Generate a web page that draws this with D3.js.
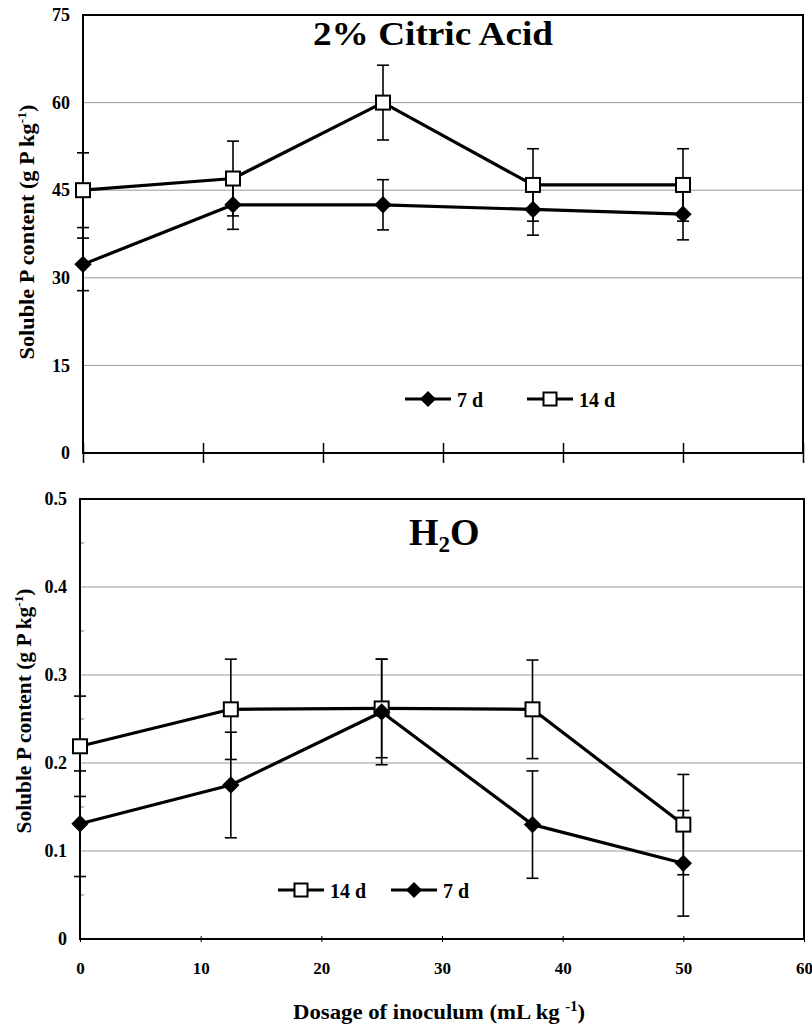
<!DOCTYPE html>
<html>
<head>
<meta charset="utf-8">
<script src="https://cdn.jsdelivr.net/npm/d3@7/dist/d3.min.js"></script>
<style>
  body { margin: 0; background: #fff; }
  svg text { font-family: 'Liberation Serif', 'Times New Roman', serif; font-weight: bold; fill: #000; }
</style>
</head>
<body>
<div id="chart"></div>
<script>
// dosage of inoculum (mL kg-1)
const dosage = [0, 12.5, 25, 37.5, 50];
const xTicks = [0, 10, 20, 30, 40, 50, 60];

// 2% citric acid extract
const citric7 = [32.3, 42.5, 42.5, 41.7, 40.9];
const citric7Err = [4.5, 4.2, 4.3, 4.4, 4.4];
const citric14 = [45.0, 47.0, 60.0, 45.9, 45.9];
const citric14Err = [6.4, 6.4, 6.4, 6.2, 6.2];
const citricTicks = [0, 15, 30, 45, 60, 75];

// water extract
const water7 = [0.131, 0.175, 0.258, 0.130, 0.086];
const water7Err = [0.060, 0.060, 0.060, 0.061, 0.060];
const water14 = [0.219, 0.261, 0.262, 0.261, 0.130];
const water14Err = [0.057, 0.057, 0.056, 0.056, 0.057];
const waterTicks = [0, 0.1, 0.2, 0.3, 0.4, 0.5];

const W = 812, H = 1024;
const svg = d3.select('#chart').append('svg')
  .attr('width', W).attr('height', H);
svg.append('rect').attr('width', W).attr('height', H).attr('fill', '#fff');

function drawMarker(g, type, x, y, size) {
  if (type === 'square') {
    g.append('rect')
      .attr('x', x - size / 2).attr('y', y - size / 2)
      .attr('width', size).attr('height', size)
      .attr('fill', '#fff').attr('stroke', '#000').attr('stroke-width', 2);
  } else {
    const h = size * 0.62;
    g.append('path')
      .attr('d', `M${x},${y - h}L${x + h},${y}L${x},${y + h}L${x - h},${y}Z`)
      .attr('fill', '#000');
  }
}

function panel(opt) {
  const x = d3.scaleLinear().domain([0, 60]).range([opt.left, opt.right]);
  const y = d3.scaleLinear().domain([opt.yTicks[0], opt.yTicks[opt.yTicks.length - 1]])
    .range([opt.bottom, opt.top]);
  const g = svg.append('g');

  // gridlines
  g.append('g').selectAll('line')
    .data(opt.yTicks.slice(1, -1))
    .enter().append('line')
    .attr('x1', opt.left).attr('x2', opt.right)
    .attr('y1', d => y(d)).attr('y2', d => y(d))
    .attr('stroke', '#9a9a9a').attr('stroke-width', 1);

  // minor ticks inside left axis
  if (opt.minor) {
    g.append('g').selectAll('line')
      .data(d3.range(opt.yTicks.length - 1).map(i => (opt.yTicks[i] + opt.yTicks[i + 1]) / 2))
      .enter().append('line')
      .attr('x1', opt.left).attr('x2', opt.left + 4)
      .attr('y1', d => y(d)).attr('y2', d => y(d))
      .attr('stroke', '#777').attr('stroke-width', 1);
  }

  // y axis labels
  const yAxis = d3.axisLeft(y).tickValues(opt.yTicks).tickSize(0).tickPadding(13)
    .tickFormat(d => opt.fmt(d));
  const ya = g.append('g').attr('transform', `translate(${opt.left},0)`).call(yAxis);
  ya.select('.domain').remove();
  ya.selectAll('text').style('font-size', '18px')
    .style('font-family', "'Liberation Serif', serif").style('font-weight', 'bold');

  // x axis ticks
  const xAxis = d3.axisBottom(x).tickValues(xTicks).tickSizeOuter(0)
    .tickSizeInner(opt.xTickLen).tickPadding(20)
    .tickFormat(opt.xLabels ? d3.format('d') : () => '');
  const xa = g.append('g').attr('transform', `translate(0,${opt.bottom})`).call(xAxis);
  xa.select('.domain').remove();
  xa.selectAll('.tick line')
    .attr('y1', -opt.xTickLen).attr('y2', opt.xTickLen)
    .attr('stroke', '#000').attr('stroke-width', opt.xTickWidth);
  xa.selectAll('text').style('font-size', '17px')
    .style('font-family', "'Liberation Serif', serif").style('font-weight', 'bold');

  // frame
  g.append('rect')
    .attr('x', opt.left).attr('y', opt.top)
    .attr('width', opt.right - opt.left).attr('height', opt.bottom - opt.top)
    .attr('fill', 'none').attr('stroke', '#000').attr('stroke-width', 2);

  const line = d3.line().x((d, i) => x(dosage[i])).y(d => y(d));

  opt.series.forEach(s => {
    // error bars
    const eb = g.append('g').attr('stroke', '#000').attr('stroke-width', 1.6);
    s.values.forEach((v, i) => {
      const cx = x(dosage[i]);
      const lo = y(v - s.err[i]), hi = y(v + s.err[i]);
      eb.append('line').attr('x1', cx).attr('x2', cx).attr('y1', lo).attr('y2', hi);
      eb.append('line').attr('x1', cx - 6).attr('x2', cx + 6).attr('y1', lo).attr('y2', lo);
      eb.append('line').attr('x1', cx - 6).attr('x2', cx + 6).attr('y1', hi).attr('y2', hi);
    });
  });
  opt.series.forEach(s => {
    g.append('path').datum(s.values)
      .attr('d', line).attr('fill', 'none')
      .attr('stroke', '#000').attr('stroke-width', 3.2).attr('stroke-linejoin', 'round');
    const mg = g.append('g');
    s.values.forEach((v, i) => drawMarker(mg, s.marker, x(dosage[i]), y(v), 14));
  });

  // legend
  opt.legend.forEach(l => {
    const lg = g.append('g');
    lg.append('line').attr('x1', l.x).attr('x2', l.x + 46)
      .attr('y1', l.y).attr('y2', l.y)
      .attr('stroke', '#000').attr('stroke-width', 3);
    drawMarker(lg, l.marker, l.x + 23, l.y, 13);
    lg.append('text').attr('x', l.x + 52).attr('y', l.y + 7.5)
      .style('font-size', '20px').text(l.label);
  });

  // y title
  g.append('text')
    .attr('transform', `translate(${opt.yTitleX},${opt.yTitleY}) rotate(-90)`)
    .attr('text-anchor', 'middle')
    .attr('textLength', opt.yTitleLen).attr('lengthAdjust', 'spacingAndGlyphs')
    .style('font-size', '21px')
    .html('Soluble P content (g P kg<tspan dy="-8" font-size="13px">-1</tspan><tspan dy="8">)</tspan>');

  return g;
}

const citricPanel = panel({
  left: 83, right: 803, top: 15, bottom: 453,
  yTicks: citricTicks, fmt: d3.format('d'),
  xLabels: false, xTickLen: 10, xTickWidth: 1.5, minor: false,
  yTitleX: 34, yTitleY: 232, yTitleLen: 255,
  series: [
    { values: citric14, err: citric14Err, marker: 'square' },
    { values: citric7, err: citric7Err, marker: 'diamond' }
  ],
  legend: [
    { x: 405, y: 399, marker: 'diamond', label: '7 d' },
    { x: 527, y: 399, marker: 'square', label: '14 d' }
  ]
});
citricPanel.append('text').attr('x', 433).attr('y', 45).attr('text-anchor', 'middle')
  .attr('textLength', 240).attr('lengthAdjust', 'spacingAndGlyphs')
  .style('font-size', '34px').text('2% Citric Acid');

const waterPanel = panel({
  left: 80, right: 804, top: 499, bottom: 939,
  yTicks: waterTicks, fmt: d => d === 0 ? '0' : d3.format('.1f')(d),
  xLabels: true, xTickLen: 3, xTickWidth: 1, minor: true,
  yTitleX: 31, yTitleY: 711, yTitleLen: 245,
  series: [
    { values: water14, err: water14Err, marker: 'square' },
    { values: water7, err: water7Err, marker: 'diamond' }
  ],
  legend: [
    { x: 278, y: 890, marker: 'square', label: '14 d' },
    { x: 391, y: 890, marker: 'diamond', label: '7 d' }
  ]
});
waterPanel.append('text').attr('x', 409).attr('y', 545)
  .style('font-size', '38px')
  .html('H<tspan dy="7" font-size="23px">2</tspan><tspan dy="-7">O</tspan>');

svg.append('text').attr('x', 439).attr('y', 1019).attr('text-anchor', 'middle')
  .attr('textLength', 292).attr('lengthAdjust', 'spacingAndGlyphs')
  .style('font-size', '22px')
  .html('Dosage of inoculum (mL kg <tspan dy="-8" font-size="14px">-1</tspan><tspan dy="8">)</tspan>');
</script>
</body>
</html>
